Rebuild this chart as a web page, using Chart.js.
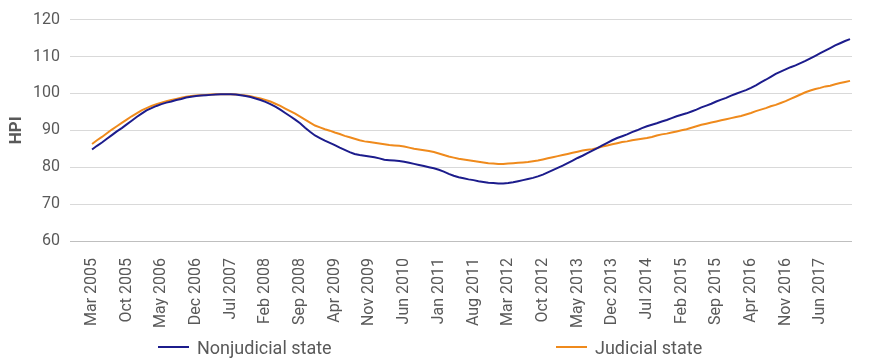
<!DOCTYPE html>
<html>
<head>
<meta charset="utf-8">
<script src="https://cdn.jsdelivr.net/npm/chart.js@4"></script>
<style>
    body { margin: 0; background: #ffffff; }
    #wrap { position: relative; width: 870px; height: 360px; font-family: Roboto, "Liberation Sans", sans-serif; }
    .legend-item { position: absolute; top: 337px; height: 20px; display: flex; align-items: center; color: #595959; font-size: 18px; }
    .legend-line { width: 31px; height: 2px; margin-right: 8px; }
</style>
</head>
<body>
<div id="wrap">
    <canvas id="chart-hpi" width="870" height="360"></canvas>
    <div id="legend"></div>
</div>
<script>

// Dados (indice mensal, Mar 2005 ate Dez 2017)
const tickLabels = ['Mar 2005', 'Oct 2005', 'May 2006', 'Dec 2006', 'Jul 2007', 'Feb 2008', 'Sep 2008',
    'Apr 2009', 'Nov 2009', 'Jun 2010', 'Jan 2011', 'Aug 2011', 'Mar 2012', 'Oct 2012', 'May 2013',
    'Dec 2013', 'Jul 2014', 'Feb 2015', 'Sep 2015', 'Apr 2016', 'Nov 2016', 'Jun 2017'];

const seriesNames = ['Nonjudicial state', 'Judicial state'];
const seriesColors = ['#1c1c8c', '#ef8a1c'];

const nonjudicial = [
    84.8, 85.8, 86.7, 87.7, 88.7, 89.7, 90.6, 91.6, 92.6, 93.6,
    94.5, 95.4, 96.0, 96.6, 97.1, 97.5, 97.8, 98.2, 98.5, 98.9,
    99.1, 99.3, 99.4, 99.5, 99.6, 99.7, 99.8, 99.8, 99.8, 99.7,
    99.5, 99.3, 99.0, 98.6, 98.2, 97.7, 97.1, 96.4, 95.6, 94.7,
    93.8, 92.9, 91.9, 90.7, 89.6, 88.6, 87.9, 87.2, 86.6, 86.0,
    85.3, 84.7, 84.1, 83.6, 83.3, 83.1, 82.9, 82.7, 82.4, 82.0,
    81.9, 81.8, 81.7, 81.5, 81.2, 80.9, 80.6, 80.3, 80.0, 79.7,
    79.3, 78.8, 78.2, 77.7, 77.3, 77.0, 76.7, 76.5, 76.2, 76.0,
    75.8, 75.7, 75.6, 75.6, 75.7, 75.9, 76.2, 76.5, 76.8, 77.1,
    77.5, 78.0, 78.6, 79.2, 79.8, 80.4, 81.1, 81.8, 82.5, 83.1,
    83.8, 84.5, 85.2, 85.9, 86.6, 87.3, 87.9, 88.4, 88.9, 89.5,
    90.0, 90.6, 91.1, 91.5, 91.9, 92.4, 92.8, 93.3, 93.8, 94.2,
    94.6, 95.1, 95.6, 96.2, 96.7, 97.2, 97.8, 98.3, 98.8, 99.4,
    99.9, 100.4, 100.9, 101.5, 102.2, 103.0, 103.7, 104.5, 105.3, 105.9,
    106.5, 107.1, 107.6, 108.2, 108.8, 109.5, 110.2, 110.9, 111.6, 112.3,
    113.0, 113.6, 114.2, 114.7
];

const judicial = [
    86.3, 87.3, 88.2, 89.2, 90.2, 91.1, 92.0, 92.9, 93.8, 94.6,
    95.4, 96.0, 96.6, 97.1, 97.5, 97.9, 98.2, 98.5, 98.8, 99.1,
    99.3, 99.4, 99.5, 99.6, 99.7, 99.8, 99.8, 99.8, 99.8, 99.7,
    99.6, 99.4, 99.2, 98.9, 98.6, 98.2, 97.8, 97.2, 96.6, 95.9,
    95.2, 94.5, 93.7, 92.9, 92.1, 91.3, 90.8, 90.3, 89.9, 89.4,
    89.0, 88.5, 88.1, 87.7, 87.3, 87.0, 86.8, 86.6, 86.4, 86.2,
    86.0, 85.9, 85.8, 85.6, 85.3, 85.0, 84.8, 84.6, 84.4, 84.1,
    83.7, 83.3, 82.9, 82.6, 82.3, 82.1, 81.9, 81.7, 81.5, 81.3,
    81.1, 81.0, 80.9, 80.9, 81.0, 81.1, 81.2, 81.3, 81.4, 81.6,
    81.8, 82.1, 82.4, 82.7, 83.0, 83.3, 83.6, 83.9, 84.2, 84.5,
    84.7, 84.9, 85.2, 85.6, 85.9, 86.2, 86.5, 86.8, 87.0, 87.3,
    87.5, 87.7, 87.9, 88.2, 88.6, 88.9, 89.1, 89.4, 89.7, 90.0,
    90.3, 90.7, 91.1, 91.5, 91.8, 92.1, 92.4, 92.7, 93.0, 93.3,
    93.6, 93.9, 94.3, 94.7, 95.2, 95.6, 96.0, 96.5, 96.9, 97.4,
    97.9, 98.5, 99.1, 99.7, 100.3, 100.8, 101.2, 101.5, 101.9, 102.1,
    102.5, 102.8, 103.1, 103.4
];

const tickStep = 7;
const textColor = '#595959';


function toPoints(values) {
    return values.map((v, i) => ({ x: i, y: v }));
}


// Legenda em HTML, com os itens bem afastados como no original
function buildLegend() {
    const legend = document.getElementById('legend');
    const lefts = [158, 556];

    seriesNames.forEach((name, i) => {
        const item = document.createElement('div');
        item.className = 'legend-item';
        item.style.left = lefts[i] + 'px';
        item.innerHTML = '<span class="legend-line" style="background:' + seriesColors[i] + '"></span>' + name;
        legend.appendChild(item);
    });
}


function createChart(id) {
    const ctx = document.getElementById(id);

    const config = {
        type: 'line',
        data: {
            datasets: [
                {
                    label: seriesNames[0],
                    data: toPoints(nonjudicial),
                    borderColor: seriesColors[0],
                    borderWidth: 2,
                    pointRadius: 0,
                    tension: 0
                },
                {
                    label: seriesNames[1],
                    data: toPoints(judicial),
                    borderColor: seriesColors[1],
                    borderWidth: 2,
                    pointRadius: 0,
                    tension: 0
                }
            ]
        },
        options: {
            responsive: false,
            animation: false,
            devicePixelRatio: 1,
            layout: { padding: { top: 15, right: 18, bottom: 15, left: 0 } },
            plugins: {
                legend: { display: false },
                tooltip: { enabled: false }
            },
            scales: {
                x: {
                    type: 'linear',
                    min: -4.45,
                    max: 153.4,
                    grid: { display: false },
                    border: { display: false },
                    afterBuildTicks: (scale) => {
                        scale.ticks = tickLabels.map((_, i) => ({ value: i * tickStep }));
                    },
                    afterFit: (scale) => { scale.height = 104; },
                    ticks: {
                        autoSkip: false,
                        minRotation: 90,
                        maxRotation: 90,
                        padding: 9,
                        color: textColor,
                        font: { family: 'Roboto', size: 16 },
                        callback: (value) => tickLabels[Math.round(value / tickStep)]
                    }
                },
                y: {
                    min: 60,
                    max: 120,
                    afterFit: (scale) => { scale.width = 70; },
                    border: { display: false },
                    grid: {
                        drawTicks: false,
                        color: (c) => c.tick && c.tick.value === 60 ? '#bfbfbf' : '#d9d9d9',
                        lineWidth: 1
                    },
                    ticks: {
                        stepSize: 10,
                        padding: 10,
                        color: textColor,
                        font: { family: 'Roboto', size: 16 }
                    },
                    title: {
                        display: true,
                        text: 'HPI',
                        color: textColor,
                        padding: { top: 7, bottom: 0 },
                        font: { family: 'Roboto', size: 17, weight: 'bold' }
                    }
                }
            }
        }
    };

    new Chart(ctx, config);
}


document.addEventListener('DOMContentLoaded', () => {
    createChart('chart-hpi');
    buildLegend();
});
</script>
</body>
</html>
